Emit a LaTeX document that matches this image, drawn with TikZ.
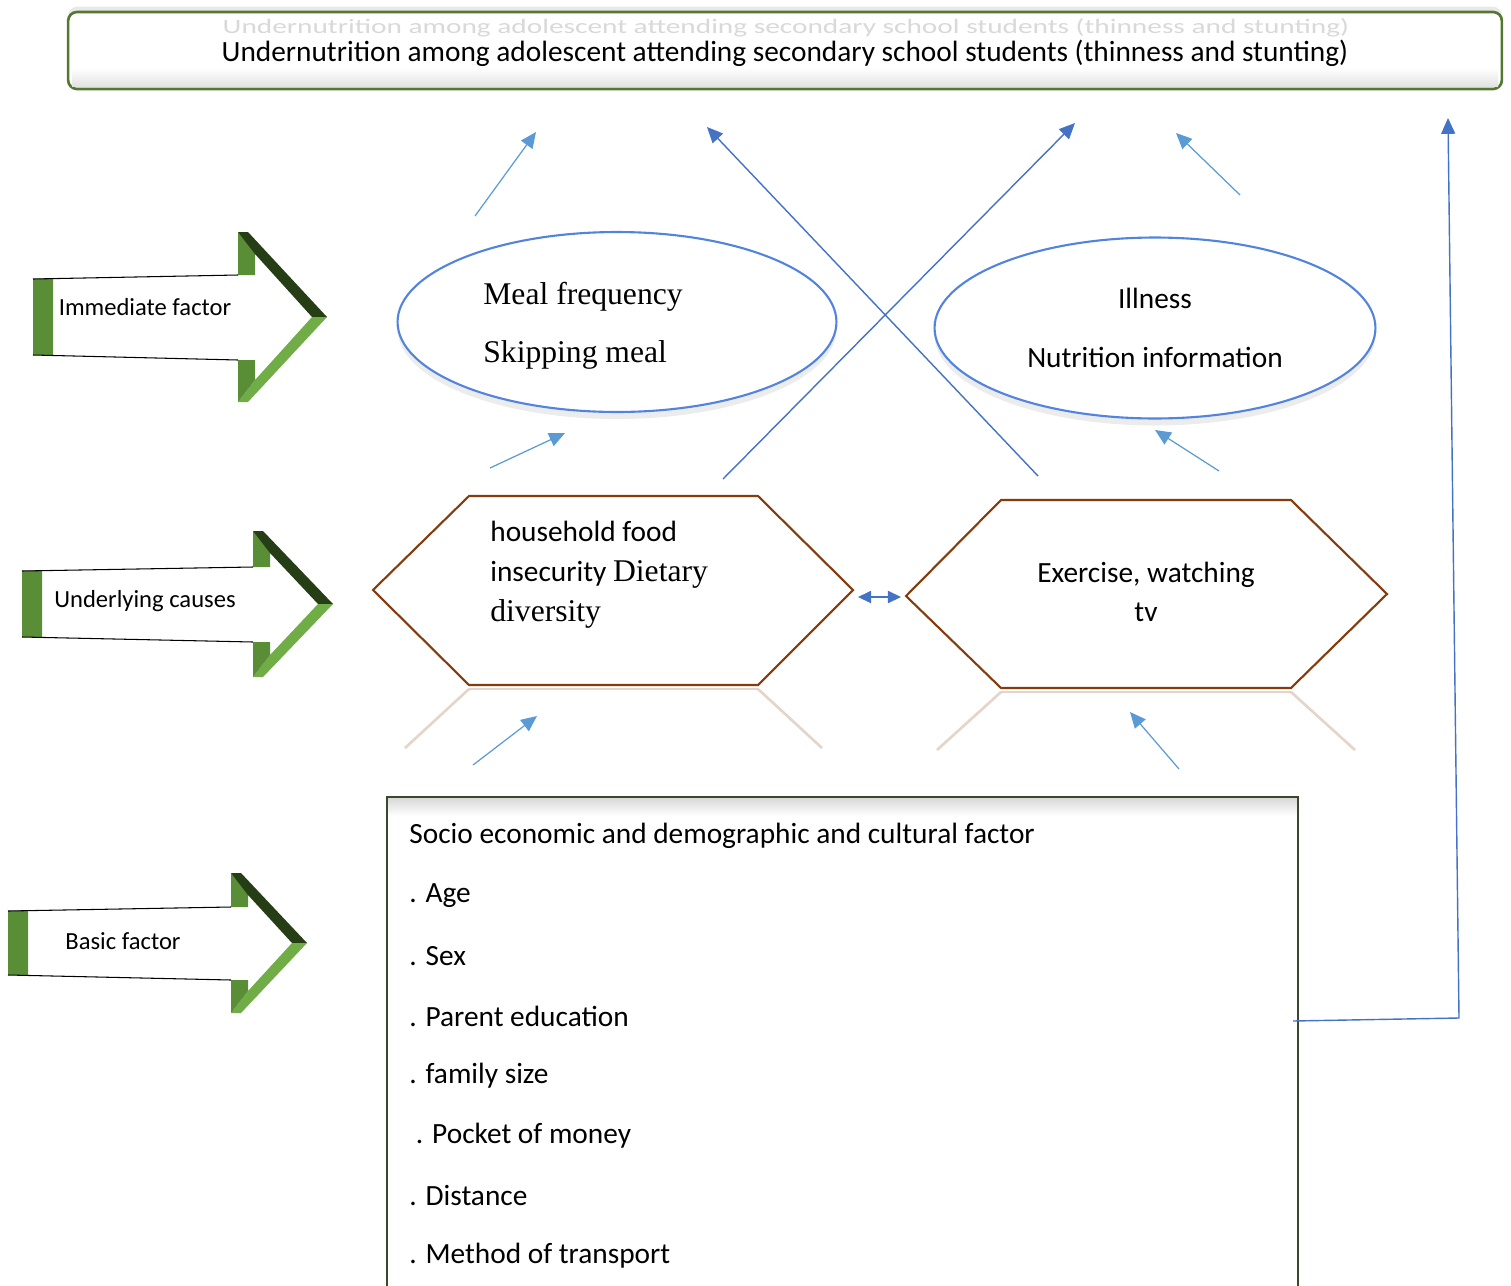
\documentclass[tikz,border=0pt]{standalone}
\usepackage{fontspec}
\setmainfont{Carlito}
\newfontfamily\timesfont{Liberation Serif}
\usetikzlibrary{arrows.meta,shapes.geometric,shadows}

\definecolor{leafgreen}{RGB}{90,142,54}
\definecolor{darkleaf}{RGB}{38,62,22}
\definecolor{lightleaf}{RGB}{112,173,71}
\definecolor{boxgreen}{RGB}{84,120,48}
\definecolor{basicgreen}{RGB}{58,72,44}
\definecolor{paleblue}{RGB}{91,155,213}
\definecolor{deepblue}{RGB}{68,114,196}
\definecolor{ringblue}{RGB}{82,132,222}
\definecolor{hexbrown}{RGB}{132,60,12}

% #1 left, #2 head, #3 tip, #4 centre, #5 half body, #6 half head
\newcommand{\factorarrow}[6]{%
  \fill[leafgreen] (#1,{#4-#5}) -- ({#1+20},{#4-#5-1}) -- ({#1+20},{#4+#5}) -- (#1,{#4+#5}) -- cycle;
  \fill[leafgreen] (#2,{#4-#6}) -- ({#2+17},{#4-#6+20}) -- ({#2+17},{#4-#5-4}) -- (#2,{#4-#5-4}) -- cycle;
  \fill[darkleaf] (#2,{#4-#6}) -- ({#2+10},{#4-#6}) -- (#3,#4) -- ({#3-15},#4) -- ({#2+17},{#4-#6+22}) -- cycle;
  \fill[lightleaf] (#3,#4) -- ({#2+10},{#4+#6}) -- (#2,{#4+#6}) -- ({#2+17},{#4+#6-22}) -- ({#3-15},#4) -- cycle;
  \fill[leafgreen] (#2,{#4+#5+5}) -- ({#2+17},{#4+#5+5}) -- ({#2+17},{#4+#6-22}) -- (#2,{#4+#6}) -- cycle;
  \draw[black, line width=.6pt] (#1,{#4-#5}) -- (#2,{#4-#5-4});
  \draw[black, line width=.6pt] (#1,{#4+#5}) -- (#2,{#4+#5+5});
}

\begin{document}
\begin{tikzpicture}[x=0.02cm, y=-0.02cm,
    every node/.style={inner sep=0pt, font=\fontsize{16.7}{20}\selectfont},
    level/.style={font=\fontsize{14}{17}\selectfont},
    titlebox/.style={draw=boxgreen, line width=1.5pt, rounded corners=5pt, fill=white,
      drop shadow={opacity=.18, shadow xshift=0pt, shadow yshift=3pt}},
    factorellipse/.style={ellipse, draw=ringblue, line width=1.2pt, fill=white,
      drop shadow={opacity=.15, shadow xshift=0pt, shadow yshift=-4pt}},
    hexline/.style={draw=hexbrown, line width=1.2pt, fill=white},
    reflect/.style={hexbrown, opacity=.22, line width=1.5pt},
    palearrow/.style={paleblue, line width=.7pt, -{Triangle[length=9pt,width=8pt]}},
    deeparrow/.style={deepblue, line width=.8pt, -{Triangle[length=9pt,width=8pt]}}]
\useasboundingbox (0,0) rectangle (1511,1285);

\factorarrow{33}{238}{327}{317}{38}{85}
\factorarrow{22}{253}{333}{604}{33}{73}
\factorarrow{8}{231}{307}{943}{32}{70}
\node[level] (immediate) at (145,307) {Immediate factor};
\node[level] (underlying) at (145,601) {Underlying causes};
\node[level] (basiclabel) at (123,941) {Basic factor};

\node[titlebox, minimum width=28.68cm, minimum height=1.54cm] (outcome) at (785,50.5) {};
\shade[top color=white, bottom color=gray!22] (72,68) rectangle (1498,86);
\node[text=gray!30, yscale=.7] (ghost) at (786,28) {Undernutrition among adolescent attending secondary school students (thinness and stunting)};
\node (outcometxt) at (785,53) {Undernutrition among adolescent attending secondary school students (thinness and stunting)};

\node[factorellipse, minimum width=8.78cm, minimum height=3.6cm] (meal) at (617,322) {};
\node[anchor=west, align=left, font=\timesfont\fontsize{18}{33}\selectfont] (mealtxt) at (483,326)
  {Meal frequency\\Skipping meal};
\node[factorellipse, minimum width=8.82cm, minimum height=3.62cm, align=center,
  font=\fontsize{16.7}{33.4}\selectfont] (illness) at (1155,328)
  {Illness\\Nutrition information};

\draw[reflect] (469,689) -- (405,748);
\draw[reflect] (758,689) -- (822,748);
\draw[reflect] (469,689) -- (758,689);
\draw[reflect] (1001,692) -- (937,750);
\draw[reflect] (1291,692) -- (1355,750);
\draw[reflect] (1001,692) -- (1291,692);
\draw[hexline] (373,590) coordinate (food w) -- (469,496) -- (758,496) -- (853,590) coordinate (food e)
  -- (758,685) -- (469,685) -- cycle;
\draw[hexline] (906,596) coordinate (exercise w) -- (1001,500) -- (1291,500) -- (1387,594) coordinate (exercise e)
  -- (1291,688) -- (1001,688) -- cycle;
\node[anchor=west, align=left, font=\fontsize{16.7}{22.7}\selectfont] (food) at (490,575)
  {household food\\insecurity {\timesfont\fontsize{18}{22.7}\selectfont Dietary}\\{\timesfont\fontsize{18}{22.7}\selectfont diversity}};
\node[align=center, font=\fontsize{16.7}{22.2}\selectfont] (exercise) at (1146,591.5)
  {Exercise, watching\\tv};
\draw[deepblue, line width=.8pt, {Triangle[length=7.5pt,width=7pt]}-{Triangle[length=7.5pt,width=7pt]}]
  ([shift={(5,7)}]food e) -- ([shift={(-5,1)}]exercise w);

\shade[top color=gray!30, bottom color=white] (388,798) rectangle (1297,816);
\draw[basicgreen, line width=1.5pt] (387,1290) -- (387,797) -- (1298,797) -- (1298,1290);
\foreach \entry [count=\k from 0] in {Socio economic and demographic and cultural factor, . Age, . Sex,
    . Parent education, . family size, \ . Pocket of money, . Distance, . Method of transport}
  \node[anchor=west] (basic\k) at (409,{836+60*\k}) {\entry};

\coordinate (a1s) at (475,216); \coordinate (a1e) at (536,132);
\coordinate (a2s) at (1240,195); \coordinate (a2e) at (1176,133);
\coordinate (x1s) at (1038,476); \coordinate (x1e) at (707,127);
\coordinate (x2s) at (723,479); \coordinate (x2e) at (1075,123);
\coordinate (b1s) at (490,468); \coordinate (b1e) at (565,433);
\coordinate (b2s) at (1219,471); \coordinate (b2e) at (1155,430);
\coordinate (c1s) at (473,765); \coordinate (c1e) at (537,716);
\coordinate (c2s) at (1179,769); \coordinate (c2e) at (1130,712);
\coordinate (basic e) at (1293,1021);
\coordinate (turn) at (1459,1018);
\coordinate (top e) at (1448,118);

\draw[palearrow] (a1s) -- (a1e);
\draw[palearrow] (a2s) -- (a2e);
\draw[deeparrow] (x1s) -- (x1e);
\draw[deeparrow] (x2s) -- (x2e);
\draw[palearrow] (b1s) -- (b1e);
\draw[palearrow] (b2s) -- (b2e);
\draw[palearrow] (c1s) -- (c1e);
\draw[palearrow] (c2s) -- (c2e);
\draw[deeparrow] (basic e) -- (turn) -- (top e);
\end{tikzpicture}
\end{document}
